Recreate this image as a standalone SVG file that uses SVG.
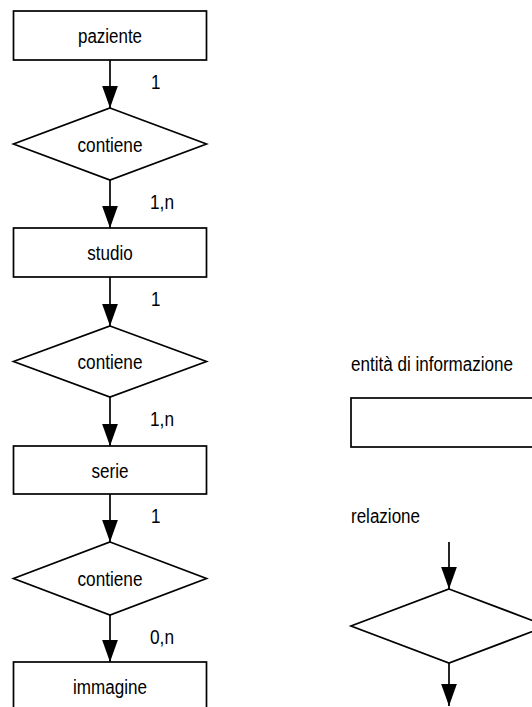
<svg xmlns="http://www.w3.org/2000/svg" width="532" height="707" viewBox="0 0 532 707">
  <style>
    .shape { fill: #ffffff; stroke: #000000; stroke-width: 1.7; }
    .edge { stroke: #000000; stroke-width: 1.7; fill: none; }
    .lbl { font-family: "Liberation Sans", Arial, sans-serif; font-size: 19.5px; fill: #000000; }
    .mid { text-anchor: middle; }
  </style>
  <defs>
    <marker id="arrow" markerUnits="userSpaceOnUse" markerWidth="22" markerHeight="16" viewBox="0 0 21 15" refX="21" refY="7.5" orient="auto">
      <path d="M0,0 L21,7.5 L0,15 Z" fill="#000000"/>
    </marker>
  </defs>
  <rect width="532" height="707" fill="#ffffff"/>

  <!-- connectors and cardinalities -->
  <g id="connectors">
    <line class="edge" x1="110" y1="60" x2="110" y2="108" marker-end="url(#arrow)"/>
    <line class="edge" x1="110" y1="180" x2="110" y2="228" marker-end="url(#arrow)"/>
    <line class="edge" x1="110" y1="277" x2="110" y2="326" marker-end="url(#arrow)"/>
    <line class="edge" x1="110" y1="397" x2="110" y2="446" marker-end="url(#arrow)"/>
    <line class="edge" x1="110" y1="494" x2="110" y2="542" marker-end="url(#arrow)"/>
    <line class="edge" x1="110" y1="615" x2="110" y2="662" marker-end="url(#arrow)"/>
    <line class="edge" x1="449" y1="542" x2="449" y2="589" marker-end="url(#arrow)"/>
    <line class="edge" x1="449" y1="663" x2="449" y2="706" marker-end="url(#arrow)"/>
    <text class="lbl" x="151" y="89" textLength="9.5" lengthAdjust="spacingAndGlyphs">1</text>
    <text class="lbl" x="150" y="209" textLength="24" lengthAdjust="spacingAndGlyphs">1,n</text>
    <text class="lbl" x="151" y="306" textLength="9.5" lengthAdjust="spacingAndGlyphs">1</text>
    <text class="lbl" x="150" y="426" textLength="24" lengthAdjust="spacingAndGlyphs">1,n</text>
    <text class="lbl" x="151" y="523" textLength="9.5" lengthAdjust="spacingAndGlyphs">1</text>
    <text class="lbl" x="150" y="644" textLength="24" lengthAdjust="spacingAndGlyphs">0,n</text>
  </g>

  <g id="paziente">
    <rect class="shape" x="13.5" y="11" width="193" height="49"/>
    <text class="lbl mid" x="110" y="43" textLength="64" lengthAdjust="spacingAndGlyphs">paziente</text>
  </g>
  <g id="contiene1">
    <polygon class="shape" points="110,108 206.5,144 110,180 13.5,144"/>
    <text class="lbl mid" x="110" y="151.5" textLength="65" lengthAdjust="spacingAndGlyphs">contiene</text>
  </g>
  <g id="studio">
    <rect class="shape" x="13.5" y="228" width="193" height="49"/>
    <text class="lbl mid" x="110" y="260" textLength="45.5" lengthAdjust="spacingAndGlyphs">studio</text>
  </g>
  <g id="contiene2">
    <polygon class="shape" points="110,326 206.5,361.5 110,397 13.5,361.5"/>
    <text class="lbl mid" x="110" y="369" textLength="65" lengthAdjust="spacingAndGlyphs">contiene</text>
  </g>
  <g id="serie">
    <rect class="shape" x="13.5" y="446" width="193" height="48"/>
    <text class="lbl mid" x="110" y="477.5" textLength="37" lengthAdjust="spacingAndGlyphs">serie</text>
  </g>
  <g id="contiene3">
    <polygon class="shape" points="110,542 206.5,578.5 110,615 13.5,578.5"/>
    <text class="lbl mid" x="110" y="586" textLength="65" lengthAdjust="spacingAndGlyphs">contiene</text>
  </g>
  <g id="immagine">
    <rect class="shape" x="13.5" y="662" width="193" height="49"/>
    <text class="lbl mid" x="110" y="694" textLength="74" lengthAdjust="spacingAndGlyphs">immagine</text>
  </g>

  <!-- legend -->
  <g id="legend-entity">
    <text class="lbl" x="351" y="371" textLength="162" lengthAdjust="spacingAndGlyphs">entità di informazione</text>
    <rect class="shape" x="351" y="398" width="194" height="49"/>
  </g>
  <g id="legend-relation">
    <text class="lbl" x="351" y="523" textLength="69" lengthAdjust="spacingAndGlyphs">relazione</text>
    <polygon class="shape" points="449,589 547,626 449,663 351,626"/>
  </g>
</svg>
